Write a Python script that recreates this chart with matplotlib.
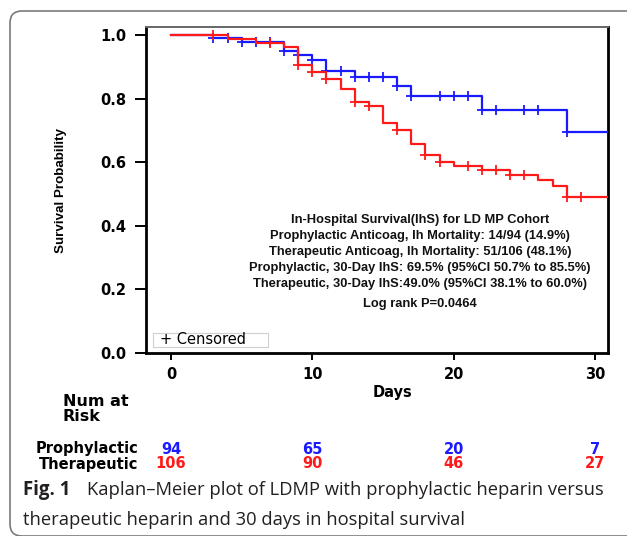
import numpy as np
import matplotlib
matplotlib.use("Agg")
import matplotlib.pyplot as plt
from matplotlib.patches import FancyBboxPatch, Rectangle
from matplotlib.transforms import IdentityTransform

# ---------------- data ----------------
follow_up_end = 31

proph_times = [0, 3, 5, 8, 9, 10, 11, 13, 16, 17, 22, 28]
proph_surv = [1.0, 0.989, 0.977, 0.950, 0.937, 0.922, 0.888, 0.867, 0.840, 0.809, 0.765, 0.695]
proph_censor = [3, 4, 5, 6, 7, 8, 9, 10, 11, 12, 13, 14, 15, 16, 17, 19, 20, 21, 22, 23, 25, 26, 28]

ther_times = [0, 4, 6, 8, 9, 10, 11, 12, 13, 14, 15, 16, 17, 18, 19, 20, 22, 24, 26, 27, 28]
ther_surv = [1.0, 0.988, 0.975, 0.961, 0.905, 0.882, 0.860, 0.831, 0.789, 0.778, 0.723, 0.702,
             0.658, 0.624, 0.600, 0.587, 0.574, 0.561, 0.543, 0.525, 0.491]
ther_censor = [3, 7, 9, 10, 11, 13, 14, 16, 18, 19, 21, 22, 23, 24, 25, 28, 29]

risk_days = [0, 10, 20, 30]
risk_proph = [94, 65, 20, 7]
risk_ther = [106, 90, 46, 27]

x_ticks = [0, 10, 20, 30]
y_ticks = [0.0, 0.2, 0.4, 0.6, 0.8, 1.0]

annot_lines = [
    "In-Hospital Survival(IhS) for LD MP Cohort",
    "Prophylactic Anticoag, Ih Mortality: 14/94 (14.9%)",
    "Therapeutic Anticoag, Ih Mortality: 51/106 (48.1%)",
    "Prophylactic, 30-Day IhS: 69.5% (95%CI 50.7% to 85.5%)",
    "Therapeutic, 30-Day IhS:49.0% (95%CI 38.1% to 60.0%)",
]
logrank = "Log rank P=0.0464"

BLUE = "#1a1aff"
RED = "#ff1a1a"

W, H = 627, 536
fig = plt.figure(figsize=(W / 100, H / 100), dpi=100)
fig.patch.set_facecolor("white")


def fx(x):
    return x / W


def fy(y):
    return 1 - y / H


# outer rounded frame (runs off the right and bottom edges)
frame = FancyBboxPatch((10, 0), 1000, 525, boxstyle="round,pad=0,rounding_size=12",
                       transform=IdentityTransform(), facecolor="none",
                       edgecolor="#7a7a7a", linewidth=1.2)
fig.patches.append(frame)

ax = fig.add_axes([fx(146), fy(353), fx(607.7) - fx(146), (353 - 27) / H])
ax.set_xlim(-1.77, 30.9)
ax.set_ylim(0, 1.025)


def step_vals(times, surv, q):
    idx = np.searchsorted(np.asarray(times), np.asarray(q), side="right") - 1
    return np.asarray(surv)[idx]


for times, surv, cens, col, z in [(proph_times, proph_surv, proph_censor, BLUE, 3),
                                   (ther_times, ther_surv, ther_censor, RED, 4)]:
    t = list(times) + [follow_up_end]
    s = list(surv) + [surv[-1]]
    ax.step(t, s, where="post", color=col, lw=1.6, zorder=z)
    ax.plot(cens, step_vals(times, surv, cens), ls="none", marker="+", ms=7,
            mew=1.3, color=col, zorder=z)

ax.set_xticks(x_ticks)
ax.set_yticks(y_ticks)
ax.set_xticklabels([str(v) for v in x_ticks], fontsize=10.5, fontweight="bold",
                   family="DejaVu Sans")
ax.set_yticklabels([f"{v:.1f}" for v in y_ticks], fontsize=10.5, fontweight="bold",
                   family="DejaVu Sans")
ax.tick_params(axis="y", direction="out", length=8, width=1.4, pad=6)
ax.tick_params(axis="x", direction="out", length=5, width=1.4, pad=5)

for side in ["left", "bottom", "right"]:
    ax.spines[side].set_color("black")
    ax.spines[side].set_linewidth(2.0)
ax.spines["top"].set_color("#666666")
ax.spines["top"].set_linewidth(1.4)

# censored legend box
ax.add_patch(Rectangle((-1.27, 0.019), 8.13, 0.045, facecolor="white",
                       edgecolor="#d0d0d0", lw=0.8, zorder=5))
ax.text(-0.8, 0.041, "+ Censored", fontsize=10.5, va="center", ha="left",
        family="DejaVu Sans", zorder=6)

# annotation block
ann_font = ["Liberation Sans", "DejaVu Sans"]
ann_y = [220, 236, 252, 268, 284]
for line, yy in zip(annot_lines, ann_y):
    fig.text(fx(420), fy(yy), line, ha="center", va="center", fontsize=9.3,
             fontweight="bold", family=ann_font, color="#111111")
fig.text(fx(420), fy(304), logrank, ha="center", va="center", fontsize=9.3,
         fontweight="bold", family=ann_font, color="#111111")

# axis labels
fig.text(fx(61), fy(190), "Survival Probability", rotation=90, ha="center", va="center",
         fontsize=9.6, fontweight="bold", family=ann_font)
fig.text(fx(392), fy(393), "Days", ha="center", va="center", fontsize=10.5,
         fontweight="bold", family="DejaVu Sans")

# risk table
fig.text(fx(63), fy(409), "Num at\nRisk", ha="left", va="center", fontsize=11.5,
         fontweight="bold", family="DejaVu Sans", linespacing=0.95)
fig.text(fx(138), fy(449), "Prophylactic", ha="right", va="center", fontsize=10.5,
         fontweight="bold", family="DejaVu Sans")
fig.text(fx(138), fy(464), "Therapeutic", ha="right", va="center", fontsize=10.5,
         fontweight="bold", family="DejaVu Sans")
tr = ax.get_xaxis_transform()
y_p = (353 - 449) / (353 - 27)
y_t = (353 - 464) / (353 - 27)
for d, n in zip(risk_days, risk_proph):
    ax.text(d, y_p, str(n), transform=tr, ha="center", va="center", fontsize=10.5,
            fontweight="bold", color=BLUE, family="DejaVu Sans", clip_on=False)
for d, n in zip(risk_days, risk_ther):
    ax.text(d, y_t, str(n), transform=tr, ha="center", va="center", fontsize=10.5,
            fontweight="bold", color=RED, family="DejaVu Sans", clip_on=False)

# caption
cap_font = ["Open Sans", "DejaVu Sans"]
fig.text(fx(23), fy(490), "Fig. 1", ha="left", va="center", fontsize=13.4,
         fontweight="bold", family=cap_font, color="#231f20")
fig.text(fx(87), fy(490), "Kaplan\u2013Meier plot of LDMP with prophylactic heparin versus",
         ha="left", va="center", fontsize=13.2, family=cap_font, color="#231f20")
fig.text(fx(23), fy(520), "therapeutic heparin and 30 days in hospital survival",
         ha="left", va="center", fontsize=13.2, family=cap_font, color="#231f20")

fig.savefig("out.png", dpi=100, facecolor="white")
